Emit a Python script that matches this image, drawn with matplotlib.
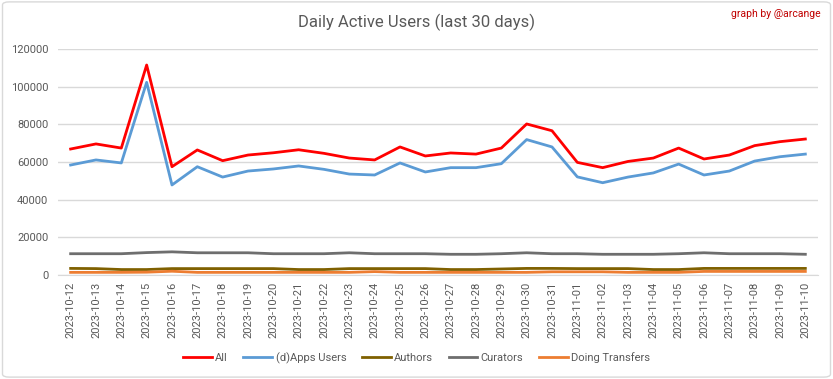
import matplotlib.pyplot as plt
from matplotlib.patches import FancyBboxPatch

plt.rcParams['font.family'] = ['Roboto', 'DejaVu Sans']

# dates shown on the x axis
dates = ['2023-10-12', '2023-10-13', '2023-10-14', '2023-10-15', '2023-10-16',
         '2023-10-17', '2023-10-18', '2023-10-19', '2023-10-20', '2023-10-21',
         '2023-10-22', '2023-10-23', '2023-10-24', '2023-10-25', '2023-10-26',
         '2023-10-27', '2023-10-28', '2023-10-29', '2023-10-30', '2023-10-31',
         '2023-11-01', '2023-11-02', '2023-11-03', '2023-11-04', '2023-11-05',
         '2023-11-06', '2023-11-07', '2023-11-08', '2023-11-09', '2023-11-10']

all_users = [66900, 69600, 67400, 111500, 57500, 66400, 60700, 63700, 64900, 66500,
             64600, 62100, 61100, 68000, 63200, 64800, 64200, 67400, 80200, 76600,
             59800, 57000, 60300, 62100, 67400, 61600, 63700, 68700, 70800, 72200]
apps_users = [58400, 61100, 59500, 102300, 47800, 57500, 52000, 55200, 56300, 57900,
              56100, 53600, 53100, 59500, 54700, 57000, 57000, 59100, 71900, 68000,
              52100, 49000, 52000, 54200, 58900, 53100, 55200, 60500, 62800, 64200]
authors = [3500, 3400, 2900, 2900, 3400, 3400, 3400, 3400, 3400, 2900,
           2900, 3400, 3400, 3400, 3400, 2900, 2900, 3200, 3500, 3500,
           3400, 3400, 3400, 2900, 2900, 3500, 3500, 3500, 3500, 3500]
curators = [11300, 11300, 11300, 11900, 12300, 11800, 11800, 11800, 11300, 11300,
            11300, 11800, 11300, 11300, 11300, 11000, 11000, 11300, 11800, 11300,
            11300, 11000, 11000, 11000, 11300, 11800, 11300, 11300, 11300, 11000]
transfers = [1400, 1400, 1400, 1500, 2000, 1400, 1400, 1400, 1400, 1400,
             1400, 1400, 1800, 1400, 1400, 1400, 1400, 1400, 1400, 1700,
             1700, 1700, 1400, 1400, 1400, 1900, 1900, 1900, 1900, 1900]

series_names = ['All', '(d)Apps Users', 'Authors', 'Curators', 'Doing Transfers']
series_colors = ['#FF0000', '#5B9BD5', '#7F6000', '#6E6E6E', '#ED7D31']

fig = plt.figure(figsize=(8.33, 3.79), dpi=100)
ax = fig.add_axes([0.0696, 0.2744, 0.9124, 0.5963])

x = range(len(dates))
for values, name, color in zip([all_users, apps_users, authors, curators, transfers],
                               series_names, series_colors):
  ax.plot(x, values, color=color, linewidth=2, label=name)

ax.set_xlim(-0.5, len(dates) - 0.5)
ax.set_ylim(0, 120000)
ax.set_yticks(range(0, 120001, 20000))
ax.set_xticks(list(x))
ax.set_xticklabels(dates, rotation=90)
ax.tick_params(axis='both', length=0, labelsize=8, colors='#595959')
ax.tick_params(axis='x', pad=5)
ax.tick_params(axis='y', pad=7)
ax.grid(axis='y', color='#D9D9D9', linewidth=1)
ax.set_axisbelow(True)
for side in ['top', 'right', 'left']:
  ax.spines[side].set_visible(False)
ax.spines['bottom'].set_color('#D9D9D9')

fig.text(0.5, 0.942, 'Daily Active Users (last 30 days)', ha='center', va='center',
         fontsize=12, color='#595959')
fig.text(0.985, 0.962, 'graph by @arcange', ha='right', va='center',
         fontsize=7.5, color='#C00000')

fig.legend(loc='center', bbox_to_anchor=(0.5, 0.055), ncol=5, frameon=False,
           fontsize=8, labelcolor='#595959', handlelength=2.6, columnspacing=1.4,
           handletextpad=0.3)

border = FancyBboxPatch((0.003, 0.005), 0.994, 0.99, boxstyle='round,pad=0,rounding_size=0.008',
                        transform=fig.transFigure, fill=False, edgecolor='#D9D9D9', linewidth=1)
fig.patches.append(border)

fig.savefig('out.png', dpi=100)
